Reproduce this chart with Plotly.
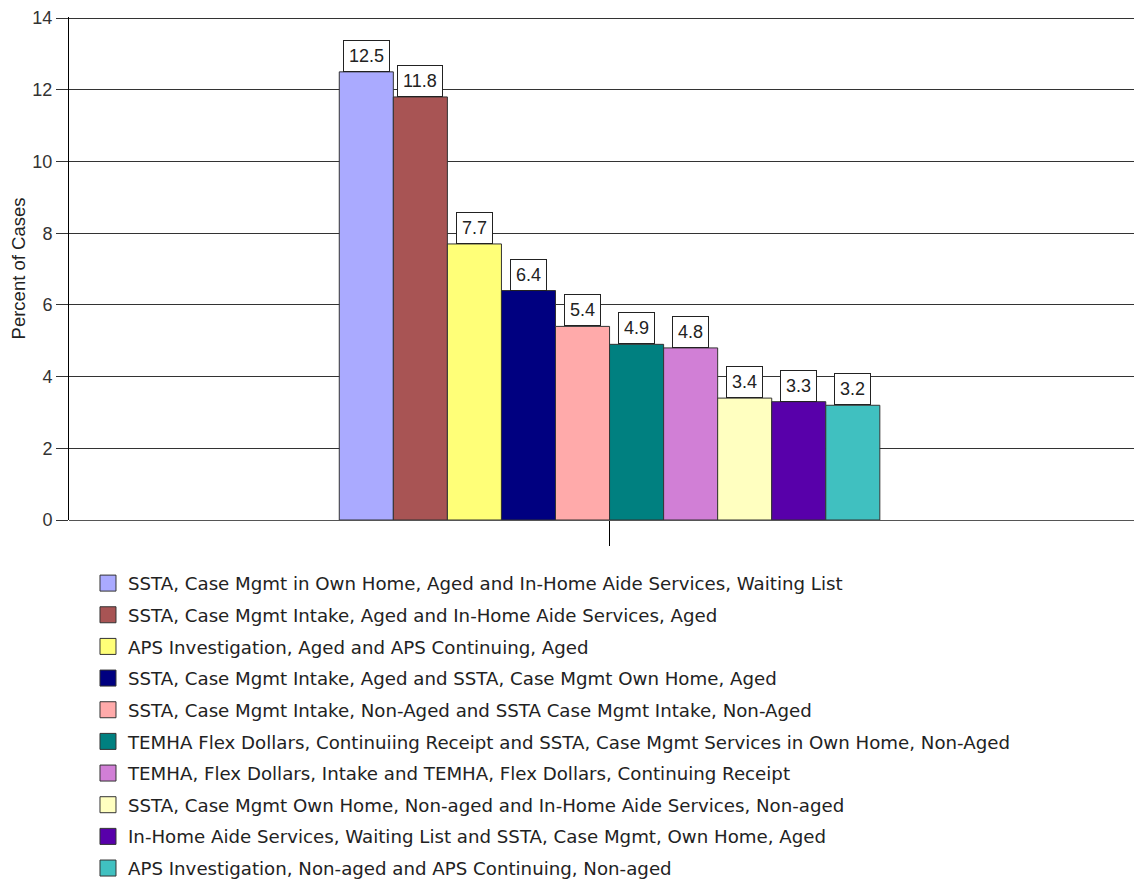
import plotly.graph_objects as go

series_names = [
    "SSTA, Case Mgmt in Own Home, Aged and In-Home Aide Services, Waiting List",
    "SSTA, Case Mgmt Intake, Aged and In-Home Aide Services, Aged",
    "APS Investigation, Aged and APS Continuing, Aged",
    "SSTA, Case Mgmt Intake, Aged and SSTA, Case Mgmt Own Home, Aged",
    "SSTA, Case Mgmt Intake, Non-Aged and SSTA Case Mgmt Intake, Non-Aged",
    "TEMHA Flex Dollars, Continuiing Receipt and SSTA, Case Mgmt Services in Own Home, Non-Aged",
    "TEMHA, Flex Dollars, Intake and TEMHA, Flex Dollars, Continuing Receipt",
    "SSTA, Case Mgmt Own Home, Non-aged and In-Home Aide Services, Non-aged",
    "In-Home Aide Services, Waiting List and SSTA, Case Mgmt, Own Home, Aged",
    "APS Investigation, Non-aged and APS Continuing, Non-aged",
]
values = [12.5, 11.8, 7.7, 6.4, 5.4, 4.9, 4.8, 3.4, 3.3, 3.2]
colors = ["#AAAAFF", "#A85454", "#FFFF78", "#000080", "#FFAAAA",
          "#008080", "#D17FD6", "#FFFFC0", "#5800AA", "#40C0C0"]
y_ticks = [0, 2, 4, 6, 8, 10, 12, 14]

FONT = "Arial, Liberation Sans, sans-serif"
LEG_FONT = "DejaVu Sans, sans-serif"
fig = go.Figure()
positions = list(range(len(values)))
for i, (name, v, c) in enumerate(zip(series_names, values, colors)):
    fig.add_trace(go.Bar(
        x=[positions[i]], y=[v], name=name, width=1,
        marker=dict(color=c, line=dict(color="#333333", width=1)),
        legendgroup=f"g{i}", showlegend=False, hoverinfo="y",
    ))
    fig.add_trace(go.Scatter(
        x=[None], y=[None], name=name, mode="markers",
        marker=dict(symbol="square", size=22, color=c, line=dict(color="#333333", width=1)),
        legendgroup=f"g{i}", showlegend=True,
    ))
    fig.add_annotation(
        x=positions[i], y=v, xref="x", yref="y", text=f"{v}",
        showarrow=False, yanchor="bottom",
        bgcolor="white", bordercolor="#222222", borderwidth=1, borderpad=5,
        font=dict(family=FONT, size=18, color="#222222"),
    )

center = sum(positions) / len(positions)
fig.update_layout(
    width=1134, height=875,
    paper_bgcolor="white", plot_bgcolor="white",
    margin=dict(l=61, r=0, t=9, b=363, autoexpand=False),
    font=dict(family=FONT, size=17, color="#222222"),
    showlegend=True,
    legend=dict(
        x=0.0177, y=-0.089, xanchor="left", yanchor="top",
        orientation="v", traceorder="grouped", tracegroupgap=5,
        font=dict(family=LEG_FONT, size=18.2, color="#222222"),
        itemsizing="trace",
    ),
    xaxis=dict(
        range=[center - 10, center + 9.85],
        tickvals=[center], ticktext=[""],
        ticks="outside", ticklen=25, tickcolor="black", tickwidth=1,
        showgrid=False, zeroline=False, showline=False,
    ),
    yaxis=dict(
        range=[0, 14.03], tickvals=y_ticks,
        ticks="outside", ticklen=12, tickcolor="#333333",
        showgrid=True, gridcolor="#333333", gridwidth=1,
        zeroline=True, zerolinecolor="#555555", zerolinewidth=1,
        showline=True, linecolor="black", linewidth=1,
        ticklabeloverflow="allow",
        title=dict(text="Percent of Cases", font=dict(family=FONT, size=18.5, color="#222222"), standoff=12),
        tickfont=dict(family=FONT, size=18, color="#333333"),
    ),
)
fig.write_html("out.html")
